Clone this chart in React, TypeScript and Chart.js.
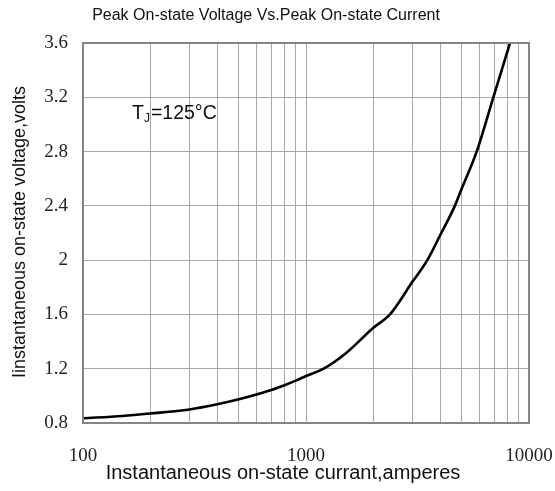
import React, { useEffect, useRef } from "react";
import { Chart, registerables } from "chart.js";

Chart.register(...registerables);

// ---- data ----
const currents = [100, 150, 200, 300, 400, 500, 600, 700, 800, 900, 1000, 1200, 1500, 2000, 2380, 3000, 3500, 4000, 4650, 5000, 5825, 6920, 8220];
const voltages = [0.835, 0.852, 0.87, 0.9, 0.938, 0.975, 1.01, 1.043, 1.078, 1.112, 1.146, 1.2, 1.31, 1.5, 1.6, 1.84, 2.0, 2.185, 2.4, 2.53, 2.8, 3.2, 3.6];

const yTickValues = [0.8, 1.2, 1.6, 2.0, 2.4, 2.8, 3.2, 3.6];
const yTickLabels = ["0.8", "1.2", "1.6", "2", "2.4", "2.8", "3.2", "3.6"];
const xGridValues = [100, 200, 300, 400, 500, 600, 700, 800, 900, 1000, 2000, 3000, 4000, 5000, 6000, 7000, 8000, 9000, 10000];
const xTickValues = [100, 1000, 10000];
const xTickLabels = ["100", "1000", "10000"];

const chartTitle = "Peak On-state Voltage Vs.Peak On-state Current";
const xTitle = "Instantaneous on-state currant,amperes";
const yTitle = "Iinstantaneous on-state voltage,volts";
const noteMain = "T";
const noteSub = "J";
const noteRest = "=125°C";

const textPlugin = {
  id: "textPlugin",
  afterDraw(chart: any) {
    const ctx = chart.ctx as CanvasRenderingContext2D;
    const a = chart.chartArea;
    ctx.save();
    // frame
    ctx.strokeStyle = "#858585";
    ctx.lineWidth = 2;
    ctx.strokeRect(a.left, a.top, a.right - a.left, a.bottom - a.top);

    ctx.fillStyle = "#111";
    ctx.textBaseline = "middle";
    ctx.textAlign = "center";
    ctx.font = "16px 'Liberation Sans', Arial, sans-serif";
    ctx.fillText(chartTitle, 266, 16);

    ctx.textBaseline = "alphabetic";
    ctx.font = "20px 'Liberation Sans', Arial, sans-serif";
    ctx.fillText(xTitle, 283, 479);

    ctx.textBaseline = "middle";
    ctx.font = "18px 'Liberation Sans', Arial, sans-serif";
    ctx.save();
    ctx.translate(20, 232);
    ctx.rotate(-Math.PI / 2);
    ctx.fillText(yTitle, 0, 0);
    ctx.restore();

    // annotation
    ctx.textAlign = "left";
    ctx.textBaseline = "alphabetic";
    ctx.font = "19.5px 'Liberation Sans', Arial, sans-serif";
    ctx.fillText(noteMain, 132, 119);
    const wT = ctx.measureText(noteMain).width;
    ctx.font = "12px 'Liberation Sans', Arial, sans-serif";
    ctx.fillText(noteSub, 132 + wT, 122);
    const wJ = ctx.measureText(noteSub).width;
    ctx.font = "19.5px 'Liberation Sans', Arial, sans-serif";
    ctx.fillText(noteRest, 132 + wT + wJ + 1, 119);
    ctx.restore();
  },
};

export default function App() {
  const ref = useRef<HTMLCanvasElement | null>(null);
  useEffect(() => {
    if (!ref.current) return;
    const chart = new Chart(ref.current, {
      type: "line",
      data: {
        datasets: [
          {
            data: currents.map((c, i) => ({ x: c, y: voltages[i] })),
            borderColor: "#000",
            borderWidth: 2.6,
            pointRadius: 0,
            cubicInterpolationMode: "monotone",
            fill: false,
          },
        ],
      },
      options: {
        responsive: false,
        animation: false,
        devicePixelRatio: 1,
        layout: { padding: { top: 43, right: 26, left: 0, bottom: 0 } },
        plugins: { legend: { display: false }, title: { display: false }, tooltip: { enabled: false } },
        scales: {
          x: {
            type: "logarithmic",
            min: 100,
            max: 10000,
            afterBuildTicks: (s: any) => {
              s.ticks = xGridValues.map((v) => ({ value: v }));
            },
            afterFit: (s: any) => {
              s.height = 68;
              s.paddingLeft = 0;
              s.paddingRight = 0;
            },
            grid: { color: "#a8a8a8", lineWidth: 1, drawTicks: false },
            border: { display: false },
            ticks: {
              autoSkip: false,
              maxRotation: 0,
              padding: 22,
              color: "#222",
              font: { family: "'Liberation Serif', serif", size: 19 },
              callback: (v: any) => {
                const i = xTickValues.indexOf(Number(v));
                return i >= 0 ? xTickLabels[i] : "";
              },
            },
          },
          y: {
            type: "linear",
            min: 0.8,
            max: 3.6,
            afterBuildTicks: (s: any) => {
              s.ticks = yTickValues.map((v) => ({ value: v }));
            },
            afterFit: (s: any) => {
              s.width = 83;
              s.paddingTop = 0;
              s.paddingBottom = 0;
            },
            grid: { color: "#a8a8a8", lineWidth: 1, drawTicks: false },
            border: { display: false },
            ticks: {
              padding: 15,
              color: "#222",
              font: { family: "'Liberation Serif', serif", size: 19 },
              callback: (v: any) => {
                const i = yTickValues.findIndex((t) => Math.abs(t - Number(v)) < 1e-6);
                return i >= 0 ? yTickLabels[i] : "";
              },
            },
          },
        },
      } as any,
      plugins: [textPlugin],
    });
    return () => chart.destroy();
  }, []);
  return (
    <div style={{ position: "absolute", left: 0, top: 0, width: 555, height: 491, background: "#fff" }}>
      <canvas ref={ref} width={555} height={491} style={{ width: 555, height: 491, display: "block" }} />
    </div>
  );
}
